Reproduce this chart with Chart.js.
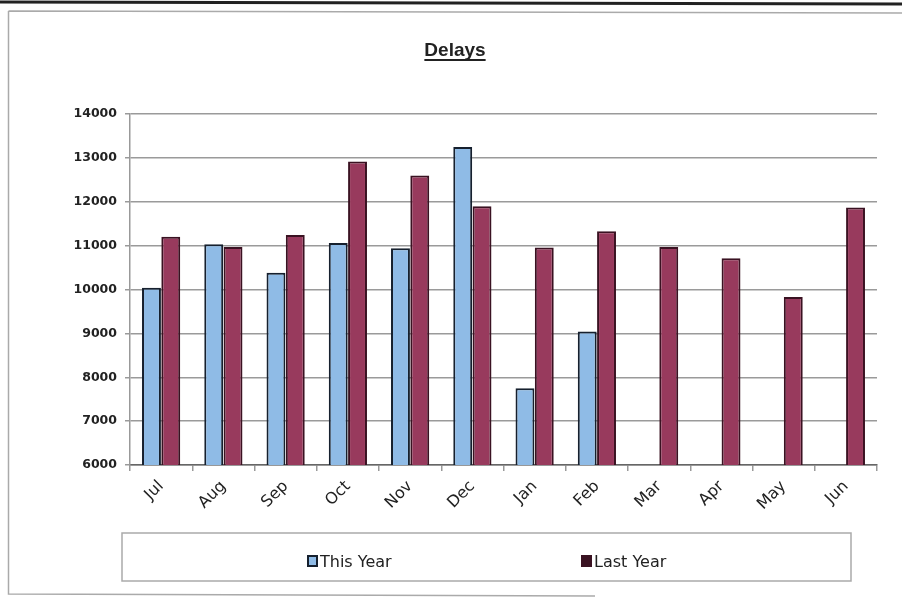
<!DOCTYPE html>
<html>
<head>
<meta charset="utf-8">
<script src="https://cdn.jsdelivr.net/npm/chart.js@4"></script>
<style>
  body { margin: 0; background: #fff; }
  .wrap { width: 902px; height: 600px; position: relative; }
</style>
</head>
<body>
<div class="wrap"><canvas id="delaysChart"></canvas></div>
<script>
// dados do grafico
const months = ['Jul', 'Aug', 'Sep', 'Oct', 'Nov', 'Dec', 'Jan', 'Feb', 'Mar', 'Apr', 'May', 'Jun'];
const thisYear = [10040, 11030, 10380, 11060, 10940, 13250, 7750, 9040, null, null, null, null];
const lastYear = [11200, 10970, 11240, 12920, 12600, 11900, 10960, 11330, 10970, 10710, 9830, 11870];
const yTicks = [6000, 7000, 8000, 9000, 10000, 11000, 12000, 13000, 14000];
const chartTitle = 'Delays';
const seriesNames = ['This Year', 'Last Year'];

// cores
const blueFill = '#8fbbe6';
const blueBorder = '#16202e';
const maroonFill = '#983a5d';
const maroonBorder = '#3a1222';

// moldura, titulo sublinhado e legenda em caixa (estilo excel)
const excelFrame = {
  id: 'excelFrame',
  afterDraw(chart) {
    const ctx = chart.ctx;
    ctx.save();

    // moldura externa
    ctx.strokeStyle = '#222';
    ctx.lineWidth = 3;
    ctx.beginPath();
    ctx.moveTo(0, 2); ctx.lineTo(902, 4);
    ctx.stroke();

    ctx.strokeStyle = '#aaa';
    ctx.lineWidth = 1.5;
    ctx.beginPath();
    ctx.moveTo(8.5, 11); ctx.lineTo(902, 13);
    ctx.moveTo(8.5, 11); ctx.lineTo(8.5, 594);
    ctx.lineTo(595, 596);
    ctx.stroke();

    // titulo
    ctx.fillStyle = '#222';
    ctx.font = 'bold 19px "Liberation Sans", Arial, sans-serif';
    ctx.textAlign = 'center';
    ctx.textBaseline = 'alphabetic';
    ctx.fillText(chartTitle, 455, 56);
    const w = ctx.measureText(chartTitle).width;
    ctx.strokeStyle = '#222';
    ctx.lineWidth = 2;
    ctx.beginPath();
    ctx.moveTo(455 - w / 2, 60); ctx.lineTo(455 + w / 2, 60);
    ctx.stroke();

    // caixa da legenda
    ctx.strokeStyle = '#aaa';
    ctx.lineWidth = 1.5;
    ctx.strokeRect(122, 533, 729, 48);

    // itens da legenda
    ctx.font = '16px "DejaVu Sans", sans-serif';
    ctx.textAlign = 'left';
    const items = [
      { x: 308, fill: blueFill, border: blueBorder },
      { x: 582, fill: maroonBorder, border: maroonBorder }
    ];
    items.forEach((it, i) => {
      ctx.fillStyle = it.fill;
      ctx.fillRect(it.x, 556, 9, 10);
      ctx.strokeStyle = it.border;
      ctx.lineWidth = 2;
      ctx.strokeRect(it.x, 556, 9, 10);
      ctx.fillStyle = '#222';
      ctx.fillText(seriesNames[i], it.x + 12, 567);
    });

    ctx.restore();
  }
};

new Chart(document.getElementById('delaysChart'), {
  type: 'bar',
  data: {
    labels: months,
    datasets: [{
      label: seriesNames[0],
      data: thisYear,
      backgroundColor: blueFill,
      borderColor: blueBorder,
      borderWidth: 2,
      borderSkipped: false
    }, {
      label: seriesNames[1],
      data: lastYear,
      backgroundColor: maroonFill,
      borderColor: maroonBorder,
      borderWidth: 2,
      borderSkipped: false
    }]
  },
  options: {
    responsive: true,
    maintainAspectRatio: false,
    animation: false,
    layout: { padding: { top: 114, left: 10, right: 25, bottom: 10 } },
    datasets: { bar: { categoryPercentage: 0.62, barPercentage: 0.98 } },
    plugins: {
      legend: { display: false },
      title: { display: false },
      tooltip: { enabled: false }
    },
    scales: {
      x: {
        grid: { display: true, drawOnChartArea: false, offset: true, tickLength: 6, color: '#999', lineWidth: 1.5 },
        border: { color: '#666', width: 1.5 },
        ticks: {
          minRotation: 45,
          maxRotation: 45,
          padding: 6,
          color: '#222',
          font: { family: '"DejaVu Sans", sans-serif', size: 16 }
        },
        afterFit(scale) { scale.height = 125; }
      },
      y: {
        min: 6000,
        max: 14000,
        afterBuildTicks(scale) { scale.ticks = yTicks.map(v => ({ value: v })); },
        grid: { color: '#9a9a9a', lineWidth: 1.5, tickLength: 5 },
        border: { color: '#999', width: 1.5 },
        ticks: {
          padding: 8,
          color: '#222',
          font: { family: '"DejaVu Sans", sans-serif', size: 12.5, weight: 'bold' },
          callback: v => String(v)
        },
        afterFit(scale) { scale.width = 120; }
      }
    }
  },
  plugins: [excelFrame]
});
</script>
</body>
</html>
